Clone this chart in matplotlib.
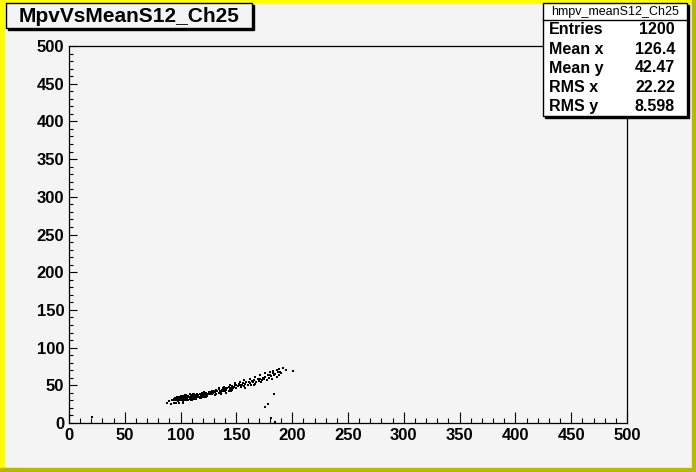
import matplotlib.pyplot as plt
from matplotlib.patches import Rectangle
from matplotlib.ticker import MultipleLocator

# MpvVsMeanS12_Ch25 scatter, values
x_vals = [93, 94, 95, 95, 96, 96, 97, 97, 98, 98, 99, 99, 100, 100, 100, 101, 101, 102, 102, 102,
          103, 103, 104, 104, 104, 105, 105, 106, 106, 106, 107, 107, 108, 108, 108, 109, 109, 110, 110, 110,
          111, 111, 112, 112, 112, 113, 113, 114, 114, 115, 115, 116, 116, 117, 117, 118, 118, 119, 119, 120,
          120, 121, 121, 122, 122, 123, 123, 124, 124, 125, 125,
          97, 99, 101, 103, 105, 107, 109, 111, 113, 115, 117, 119, 121, 123,
          88, 90, 91, 92, 94, 96, 99, 102,
          126, 127, 128, 128, 129, 130, 131, 132, 132, 133, 134, 134, 135, 136, 137, 138, 138, 139, 140, 140,
          141, 142, 143, 143, 144, 145, 146, 146, 147, 148, 149, 150, 150, 131, 136, 141, 145,
          151, 152, 153, 154, 155, 156, 157, 158, 159, 160, 161, 162, 163, 164, 165, 166, 167, 168, 169, 170,
          171, 172, 173, 174, 175, 158, 166,
          176, 177, 178, 179, 180, 181, 182, 183, 184, 185, 186, 187, 188, 189, 190, 192, 194, 201, 180, 186,
          21, 184, 178, 176, 181, 185,
          134, 139, 144, 149, 153, 157, 162, 167, 171, 176, 183, 188]
y_vals = [30, 32, 31, 33, 30, 32, 34, 31, 29, 33, 32, 35, 30, 33, 36, 31, 34, 32, 35, 29,
          33, 36, 31, 34, 37, 32, 35, 30, 33, 36, 34, 31, 35, 32, 38, 33, 36, 34, 31, 37,
          35, 32, 36, 33, 39, 34, 37, 35, 32, 36, 38, 34, 37, 35, 39, 36, 33, 37, 40, 35,
          38, 36, 39, 37, 34, 38, 40, 36, 39, 38, 41,
          33, 30, 36, 30, 37, 36, 31, 38, 32, 34, 33, 35, 41, 35,
          27, 29, 25, 31, 27, 26, 27, 27,
          39, 41, 38, 42, 40, 43, 41, 39, 44, 42, 40, 45, 43, 41, 44, 46, 42, 45, 43, 47,
          44, 46, 48, 42, 45, 47, 49, 44, 46, 48, 50, 47, 51, 37, 38, 40, 42,
          49, 52, 50, 48, 51, 53, 49, 52, 54, 51, 55, 53, 50, 56, 54, 57, 52, 55, 58, 56,
          59, 54, 57, 60, 58, 47, 50,
          61, 57, 63, 60, 64, 62, 59, 66, 63, 65, 61, 67, 64, 68, 66, 73, 70, 69, 68, 70,
          8, 38, 25, 21, 7, 1,
          46, 48, 50, 53, 55, 57, 59, 61, 63, 66, 69, 71]

stat_names = ['Entries', 'Mean x', 'Mean y', 'RMS x', 'RMS y']
stat_values = ['1200', '126.4', '42.47', '22.22', '8.598']

W, H = 696, 472
bg = '#f4f4f4'
fig = plt.figure(figsize=(W / 100, H / 100), dpi=100, facecolor=bg)
plt.rcParams['font.family'] = ['Liberation Sans', 'DejaVu Sans']

def px(x, y):
    return x / W, 1 - y / H

# canvas bevel border
fig.patches.append(Rectangle((0, 0), 4 / W, 1, transform=fig.transFigure, color='#ffff00', zorder=0))
fig.patches.append(Rectangle((0, 1 - 3 / H), 1, 3 / H, transform=fig.transFigure, color='#ffff00', zorder=0))
fig.patches.append(Rectangle((1 - 4 / W, 0), 4 / W, 1, transform=fig.transFigure, color='#b8b800', zorder=0))
fig.patches.append(Rectangle((0, 0), 1, 4 / H, transform=fig.transFigure, color='#b8b800', zorder=0))

ax = fig.add_axes([69 / W, 1 - 423 / H, 558 / W, 377 / H])
ax.set_facecolor(bg)
ax.plot(x_vals, y_vals, 's', color='black', markersize=1.7, markeredgewidth=0)
ax.set_xlim(0, 500)
ax.set_ylim(0, 500)
for s in ax.spines.values():
    s.set_linewidth(0.9)
ax.xaxis.set_major_locator(MultipleLocator(50))
ax.xaxis.set_minor_locator(MultipleLocator(10))
ax.yaxis.set_major_locator(MultipleLocator(50))
ax.yaxis.set_minor_locator(MultipleLocator(10))
ax.tick_params(axis='x', which='major', direction='in', length=8, width=0.8, pad=3.5, labelsize=12)
ax.tick_params(axis='x', which='minor', direction='in', length=3.8, width=0.8)
ax.tick_params(axis='y', which='major', direction='in', length=6, width=0.8, pad=3.5, labelsize=12)
ax.tick_params(axis='y', which='minor', direction='in', length=3.2, width=0.8)
for lab in ax.get_xticklabels() + ax.get_yticklabels():
    lab.set_fontweight('bold')

# title box with shadow
x0, y0 = px(6, 28)
fig.patches.append(Rectangle((x0 + 2 / W, y0 - 2 / H), 246 / W, 25 / H, transform=fig.transFigure,
                             facecolor='black', edgecolor='black', zorder=3))
fig.patches.append(Rectangle((x0, y0), 246 / W, 25 / H, transform=fig.transFigure,
                             facecolor=bg, edgecolor='black', linewidth=1, zorder=4))
fig.text(*px(129, 16), 'MpvVsMeanS12_Ch25', fontsize=15, fontweight='bold', ha='center', va='center', zorder=5)

# stats box with shadow
sx0, sy0 = px(543, 116)
fig.patches.append(Rectangle((sx0 + 2 / W, sy0 - 2 / H), 144 / W, 113 / H, transform=fig.transFigure,
                             facecolor='black', edgecolor='black', zorder=3))
fig.patches.append(Rectangle((sx0, sy0), 144 / W, 113 / H, transform=fig.transFigure,
                             facecolor='white', edgecolor='black', linewidth=1, zorder=4))
fig.lines.append(plt.Line2D([543 / W, 687 / W], [1 - 20 / H, 1 - 20 / H], transform=fig.transFigure,
                            color='black', linewidth=1, zorder=5))
fig.text(*px(615, 12), 'hmpv_meanS12_Ch25', fontsize=9, ha='center', va='center', zorder=5)
row_y = [30, 49, 68, 87, 106]
for name, val, ry in zip(stat_names, stat_values, row_y):
    fig.text(*px(549, ry), name, fontsize=11.5, fontweight='bold', ha='left', va='center', zorder=5)
    fig.text(*px(675, ry), val, fontsize=11.5, fontweight='bold', ha='right', va='center', zorder=5)

fig.savefig('out.png', dpi=100, facecolor=bg)
